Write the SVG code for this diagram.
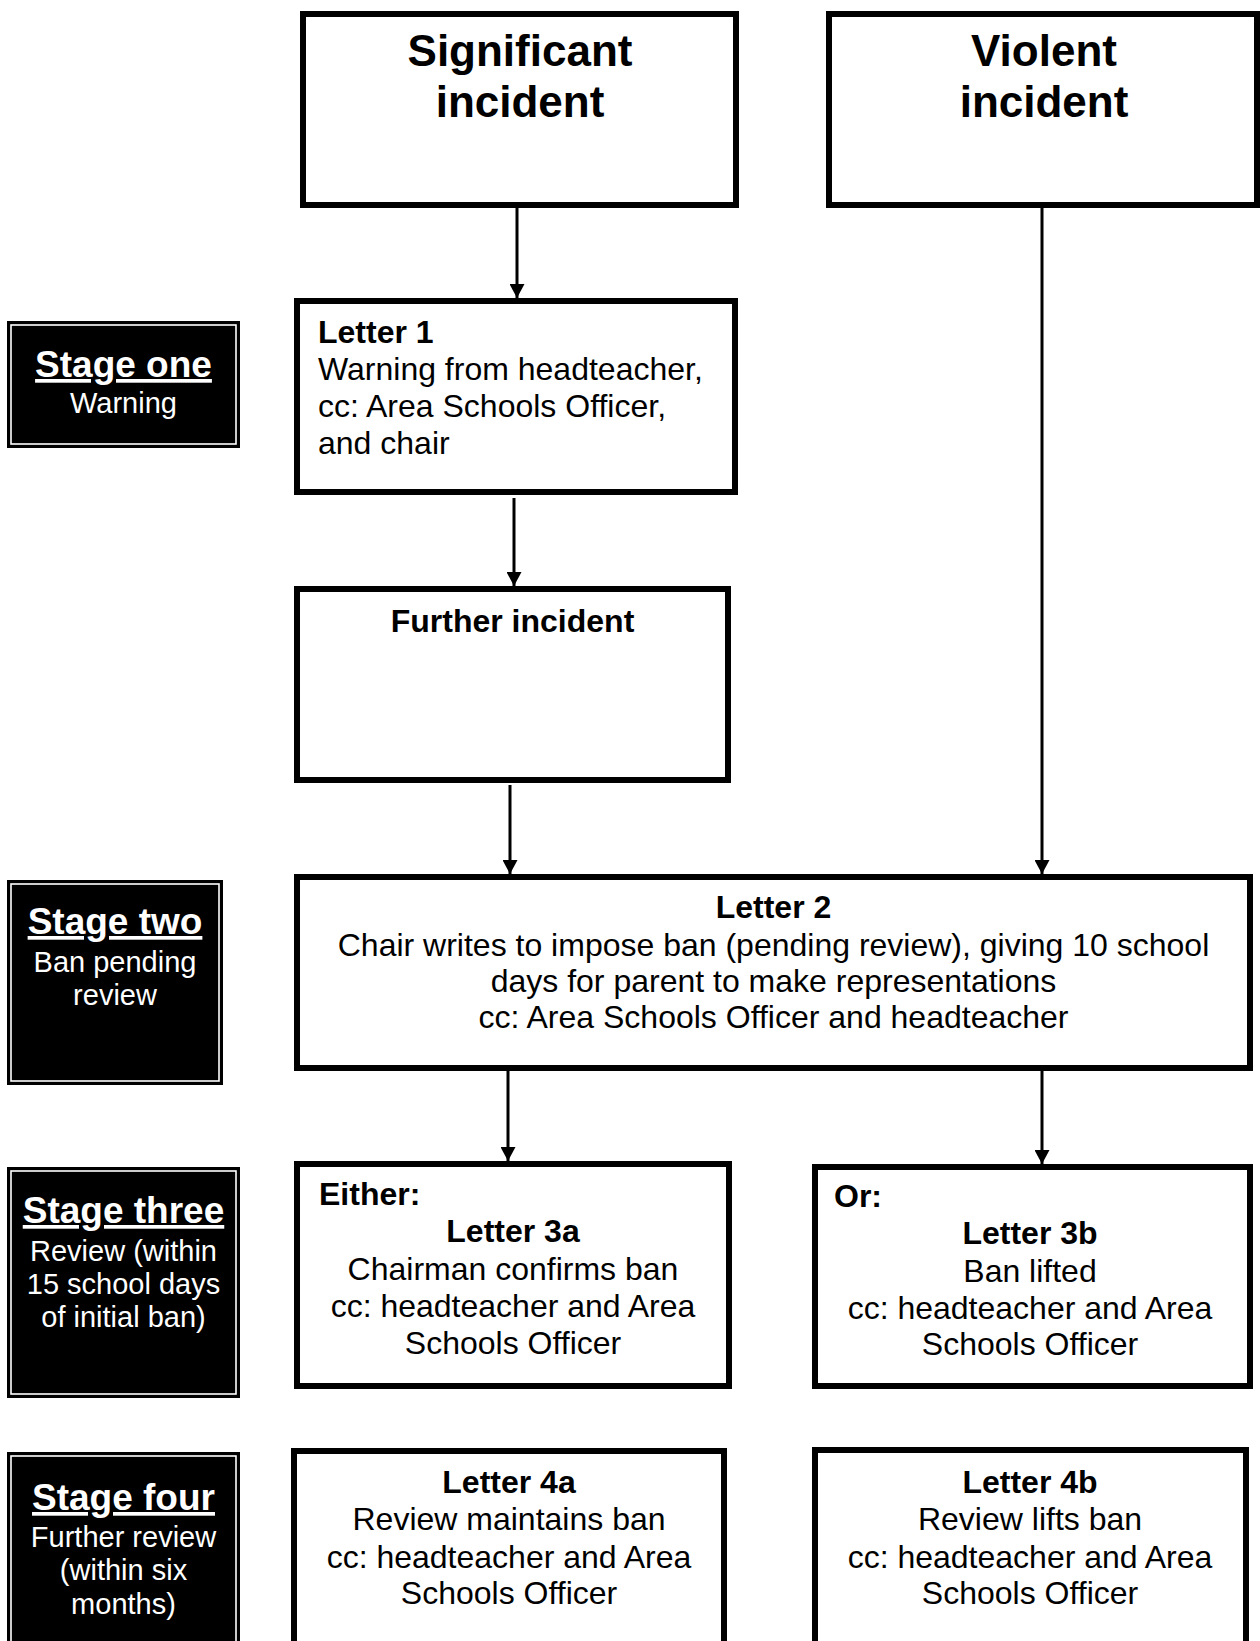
<svg xmlns="http://www.w3.org/2000/svg" width="1260" height="1641" viewBox="0 0 1260 1641">
<defs>
<style>
text{font-family:"Liberation Sans",Arial,sans-serif;fill:#000}
.box{fill:#fff;stroke:#000;stroke-width:6}
.stg{fill:#000;stroke:#000;stroke-width:1}
.stgi{fill:none;stroke:#fff;stroke-width:1.6}
.t44{font-size:44px;font-weight:bold;text-anchor:middle}
.b{font-size:32px;font-weight:bold}
.r{font-size:32px}
.c{text-anchor:middle}
.sh{font-size:37px;font-weight:bold;fill:#fff;text-anchor:middle;text-decoration:underline}
.sb{font-size:29px;fill:#fff;text-anchor:middle}
.ln{stroke:#000;stroke-width:3;fill:none}
</style>
<marker id="ah" viewBox="0 0 14 15" refX="14" refY="7.5" markerWidth="14" markerHeight="15" markerUnits="userSpaceOnUse" orient="auto">
<path d="M0,0 L14,7.5 L0,15 Z" fill="#000"/>
</marker>
</defs>

<g id="connectors">
<line class="ln" x1="517" y1="208" x2="517" y2="298" marker-end="url(#ah)"/>
<line class="ln" x1="514" y1="498" x2="514" y2="586" marker-end="url(#ah)"/>
<line class="ln" x1="510" y1="785" x2="510" y2="874" marker-end="url(#ah)"/>
<line class="ln" x1="1042" y1="208" x2="1042" y2="874" marker-end="url(#ah)"/>
<line class="ln" x1="508" y1="1071" x2="508" y2="1161" marker-end="url(#ah)"/>
<line class="ln" x1="1042" y1="1071" x2="1042" y2="1164" marker-end="url(#ah)"/>
</g>

<g id="significant">
<rect class="box" x="303" y="14" width="433" height="191"/>
<text class="t44" x="520" y="66">Significant</text>
<text class="t44" x="520" y="117">incident</text>
</g>

<g id="violent">
<rect class="box" x="829" y="14" width="428" height="191"/>
<text class="t44" x="1044" y="66">Violent</text>
<text class="t44" x="1044" y="117">incident</text>
</g>

<g id="stage-one">
<rect class="stg" x="7.5" y="321.5" width="232" height="126"/>
<rect class="stgi" x="11" y="325" width="225" height="119"/>
<text class="sh" x="123.5" y="377">Stage one</text>
<text class="sb" x="123.5" y="413">Warning</text>
</g>

<g id="letter1">
<rect class="box" x="297" y="301" width="438" height="191"/>
<text class="b" x="318" y="343">Letter 1</text>
<text class="r" x="318" y="380">Warning from headteacher,</text>
<text class="r" x="318" y="417">cc: Area Schools Officer,</text>
<text class="r" x="318" y="454">and chair</text>
</g>

<g id="further">
<rect class="box" x="297" y="589" width="431" height="191"/>
<text class="b c" x="512.5" y="632">Further incident</text>
</g>

<g id="stage-two">
<rect class="stg" x="7.5" y="880.5" width="215" height="204"/>
<rect class="stgi" x="11" y="884" width="208" height="197"/>
<text class="sh" x="115" y="934">Stage two</text>
<text class="sb" x="115" y="972">Ban pending</text>
<text class="sb" x="115" y="1005">review</text>
</g>

<g id="letter2">
<rect class="box" x="297" y="877" width="953" height="191"/>
<text class="b c" x="773.5" y="918">Letter 2</text>
<text class="r c" x="773.5" y="956">Chair writes to impose ban (pending review), giving 10 school</text>
<text class="r c" x="773.5" y="992">days for parent to make representations</text>
<text class="r c" x="773.5" y="1028">cc: Area Schools Officer and headteacher</text>
</g>

<g id="stage-three">
<rect class="stg" x="7.5" y="1167.5" width="232" height="230"/>
<rect class="stgi" x="11" y="1171" width="225" height="223"/>
<text class="sh" x="123.5" y="1223">Stage three</text>
<text class="sb" x="123.5" y="1261">Review (within</text>
<text class="sb" x="123.5" y="1294">15 school days</text>
<text class="sb" x="123.5" y="1327">of initial ban)</text>
</g>

<g id="letter3a">
<rect class="box" x="297" y="1164" width="432" height="222"/>
<text class="b" x="319" y="1205">Either:</text>
<text class="b c" x="513" y="1242">Letter 3a</text>
<text class="r c" x="513" y="1280">Chairman confirms ban</text>
<text class="r c" x="513" y="1317">cc: headteacher and Area</text>
<text class="r c" x="513" y="1354">Schools Officer</text>
</g>

<g id="letter3b">
<rect class="box" x="815" y="1167" width="435" height="219"/>
<text class="b" x="834" y="1207">Or:</text>
<text class="b c" x="1030" y="1244">Letter 3b</text>
<text class="r c" x="1030" y="1282">Ban lifted</text>
<text class="r c" x="1030" y="1319">cc: headteacher and Area</text>
<text class="r c" x="1030" y="1355">Schools Officer</text>
</g>

<g id="stage-four">
<rect class="stg" x="7.5" y="1452.5" width="232" height="240"/>
<rect class="stgi" x="11" y="1456" width="225" height="240"/>
<text class="sh" x="123.5" y="1510">Stage four</text>
<text class="sb" x="123.5" y="1547">Further review</text>
<text class="sb" x="123.5" y="1580">(within six</text>
<text class="sb" x="123.5" y="1614">months)</text>
</g>

<g id="letter4a">
<rect class="box" x="294" y="1451" width="430" height="260"/>
<text class="b c" x="509" y="1493">Letter 4a</text>
<text class="r c" x="509" y="1530">Review maintains ban</text>
<text class="r c" x="509" y="1568">cc: headteacher and Area</text>
<text class="r c" x="509" y="1604">Schools Officer</text>
</g>

<g id="letter4b">
<rect class="box" x="815" y="1450" width="431" height="260"/>
<text class="b c" x="1030" y="1493">Letter 4b</text>
<text class="r c" x="1030" y="1530">Review lifts ban</text>
<text class="r c" x="1030" y="1568">cc: headteacher and Area</text>
<text class="r c" x="1030" y="1604">Schools Officer</text>
</g>
</svg>
